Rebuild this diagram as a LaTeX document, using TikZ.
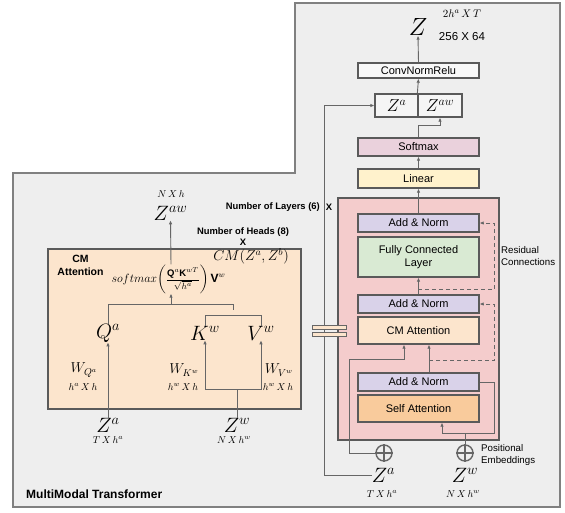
\documentclass[tikz,border=0pt]{standalone}
\usepackage{amsmath}
\usepackage{fontspec}
\setmainfont{Liberation Sans}
\usetikzlibrary{arrows.meta}
\definecolor{bgc}{HTML}{EEEEEE}
\definecolor{bgline}{HTML}{808080}
\definecolor{boxline}{HTML}{5A5A5A}
\definecolor{lncol}{HTML}{666666}
\definecolor{pinkp}{HTML}{F4CCCC}
\definecolor{peach}{HTML}{FCE5CD}
\definecolor{selfc}{HTML}{F9CB9C}
\definecolor{anorm}{HTML}{D9D2E9}
\definecolor{fcg}{HTML}{D9EAD3}
\definecolor{linc}{HTML}{FFF2CC}
\definecolor{softc}{HTML}{EAD1DC}
\newcommand\zfont{\fontsize{20}{24}\selectfont}
\newcommand\wfont{\fontsize{14}{16}\selectfont}
\newcommand\dfont{\fontsize{10}{12}\selectfont}
\begin{document}
\begin{tikzpicture}[x=1pt,y=-1pt,
  box/.style={draw=boxline, line width=1.3pt, minimum width=121pt, inner sep=0pt, font=\fontsize{11}{13}\selectfont, align=center},
  arr/.style={draw=lncol, line width=0.9pt, -{Latex[length=4pt,width=3.5pt]}},
  ln/.style={draw=lncol, line width=0.9pt},
  dsh/.style={dash pattern=on 4pt off 3pt},
  lbl/.style={inner sep=0pt},
  bold/.style={inner sep=0pt, font=\bfseries\fontsize{9.4}{11}\selectfont},
  plus/.style={circle, draw=lncol, line width=1.4pt, minimum size=16pt, inner sep=0pt}]
\useasboundingbox (0,0) rectangle (565,512);
% outer panel
\draw[fill=bgc, draw=bgline, line width=1.2pt] (13,173) -- (295,173) -- (295,3) -- (560,3) -- (560,507) -- (13,507) -- cycle;
% right stack
\node[draw=boxline, line width=1.3pt, fill=pinkp, minimum width=161pt, minimum height=242pt, inner sep=0pt] (pbox) at (418.5,319) {};
\node[box, fill=anorm, minimum height=18pt] (an1) at (418.5,223) {Add \& Norm};
\node[box, fill=fcg, minimum height=40pt] (fc) at (418.5,257) {Fully Connected\\Layer};
\node[box, fill=anorm, minimum height=18pt] (an2) at (418.5,304) {Add \& Norm};
\node[box, fill=peach, minimum height=27pt] (cma) at (418.5,330.5) {CM Attention};
\node[box, fill=anorm, minimum height=18pt] (an3) at (418.5,382) {Add \& Norm};
\node[box, fill=selfc, minimum height=27pt] (sa) at (418.5,408.5) {Self Attention};
\node[box, fill=linc, minimum height=19pt] (lin) at (418.5,178.5) {Linear};
\node[box, fill=softc, minimum height=18pt] (soft) at (418.5,147) {Softmax};
\node[box, fill=white!60!bgc, minimum height=15pt] (conv) at (418.5,70.5) {ConvNormRelu};
\node[box, fill=white!40!bgc, minimum width=43pt, minimum height=23pt, font=\fontsize{18}{20}\selectfont] (za) at (396.5,105.5) {$Z^a$};
\node[box, fill=white!40!bgc, minimum width=44pt, minimum height=23pt, font=\fontsize{18}{20}\selectfont] (zaw) at (440,105.5) {$Z^{aw}$};
\node[lbl, font=\fontsize{26}{28}\selectfont] (zt) at (418,27) {$Z$};
\node[lbl, font=\fontsize{11}{13}\selectfont] (zdim) at (462,14) {$2h^a\,X\,T$};
\node[lbl, font=\fontsize{11.5}{13}\selectfont] (zdim2) at (462,37) {256 X 64};
% bottom right inputs
\node[lbl, font=\zfont] (za2) at (383.5,475) {$Z^a$};
\node[lbl, font=\dfont] (za2d) at (382,494) {$T\,X\,h^a$};
\node[lbl, font=\zfont] (zw2) at (465,475) {$Z^w$};
\node[lbl, font=\dfont] (zw2d) at (463,494) {$N\,X\,h^w$};
\node[plus] (pa) at (384,453) {};
\draw[draw=lncol, line width=1.4pt] (pa.north) -- (pa.south) (pa.west) -- (pa.east);
\node[plus] (pw) at (465,453) {};
\draw[draw=lncol, line width=1.4pt] (pw.north) -- (pw.south) (pw.west) -- (pw.east);
\node[lbl, anchor=west, align=left, font=\fontsize{9.7}{12}\selectfont] (pe) at (481,455) {Positional\\Embeddings};
\node[lbl, anchor=west, align=left, font=\fontsize{9.7}{12}\selectfont] (rc) at (501,256.5) {Residual\\Connections};
\node[bold, anchor=east] (nl) at (320,207) {Number of Layers (6)};
\node[bold] (nlx) at (329,207) {X};
% right connectors
\draw[arr] (zaw.north west) -- (conv.south);
\draw[arr] (conv.north) -- (zt.south);
\draw[arr] (soft.north) -- ++(0,-12) -| (zaw.south);
\draw[arr] (lin.north) -- (soft.south);
\draw[arr] (an1.north) -- (lin.south);
\draw[arr] (an2.north) -- (fc.south);
\draw[arr] ([xshift=10.5pt]an3.north) -- ([xshift=10.5pt]cma.south);
\draw[arr] (za2.west) -| (324,105.5) -- (za.west);
\draw[arr] (pa.west) -| (349,359) -| ([xshift=-14.5pt]cma.south);
\draw[arr] (pw.north) -- (465,433) -| ([xshift=23.5pt]sa.south);
\draw[ln] (465,433) -| ([xshift=15pt]an3.east) -- (an3.east);
\draw[arr, dsh] (429,360) -| ([xshift=15pt]an2.east) -- (an2.east);
\draw[arr, dsh] (418,289) -| ([xshift=15pt]an1.east) -- (an1.east);
% break marks
\draw[draw=lncol, line width=0.8pt, fill=peach] (312,325) rectangle (346,329.5);
\draw[draw=lncol, line width=0.8pt, fill=peach] (312,332) rectangle (346,336.5);
% left CM attention
\node[draw=boxline, line width=1.3pt, fill=peach, minimum width=253pt, minimum height=160pt, inner sep=0pt] (cmbox) at (174.5,329) {};
\node[lbl, font=\dfont] (nxh) at (171,194) {$N\,X\,h$};
\node[lbl, font=\fontsize{22}{24}\selectfont] (zaw1) at (170.5,213) {$Z^{aw}$};
\node[bold, align=center] (nh) at (243,236.5) {Number of Heads (8)\\X};
\node[lbl, align=center, font=\bfseries\fontsize{10.5}{13}\selectfont] (cmt) at (80.5,265.5) {CM\\Attention};
\node[lbl, font=\fontsize{14}{16}\selectfont] (cmz) at (251,256) {$CM(Z^a,Z^b)$};
\node[lbl, font=\fontsize{12}{14}\selectfont] (fm) at (168.5,279) {$softmax\biggl(\text{\fontsize{9.5}{11}\selectfont$\displaystyle\frac{\mathbf{Q}^a\mathbf{K}^{wT}}{\sqrt{h^a}}$}\biggr)\,\mathbf{V}^w$};
\node[lbl, font=\zfont] (qa) at (108,333) {$Q^a$};
\node[lbl, font=\zfont] (kw) at (205,333) {$K^w$};
\node[lbl, font=\zfont] (vw) at (261,333) {$V^w$};
\node[lbl, font=\wfont] (wq) at (84,370) {$W_{Q^a}$};
\node[lbl, font=\dfont] (wqd) at (83,387) {$h^a\,X\,h$};
\node[lbl, font=\wfont] (wk) at (184,370) {$W_{K^w}$};
\node[lbl, font=\dfont] (wkd) at (183,387) {$h^w\,X\,h$};
\node[lbl, font=\wfont] (wv) at (279,370) {$W_{V^w}$};
\node[lbl, font=\dfont] (wvd) at (278,387) {$h^w\,X\,h$};
\node[lbl, font=\zfont] (za1) at (108,425) {$Z^a$};
\node[lbl, font=\dfont] (za1d) at (108,440) {$T\,X\,h^a$};
\node[lbl, font=\zfont] (zw1) at (237,425) {$Z^w$};
\node[lbl, font=\dfont] (zw1d) at (234,440) {$N\,X\,h^w$};
\node[lbl, anchor=west, font=\bfseries\fontsize{12}{14}\selectfont] (mmt) at (26,494) {MultiModal Transformer};
% left connectors
\draw[arr] ([xshift=2.5pt]fm.north) -- (zaw1.south);
\draw[ln] (qa.north) |- (233,304) -- (233,310);
\draw[arr] (171,304) -- ([xshift=2.5pt]fm.south);
\draw[ln] (kw.north) |- (261,315) -- (vw.north);
\draw[arr] (za1.north) -- (qa.south);
\draw[ln] (zw1.north) -- (237,389);
\draw[arr] (237,389) -| (kw.south);
\draw[arr] (237,389) -| (vw.south);
\end{tikzpicture}
\end{document}
